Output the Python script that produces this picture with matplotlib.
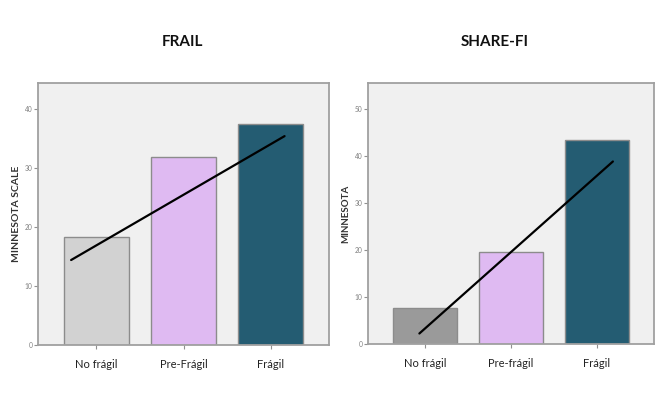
import matplotlib
matplotlib.use("Agg")
import matplotlib.pyplot as plt

categories_frail = ["No frágil", "Pre-Frágil", "Frágil"]
values_frail = [18.3, 31.9, 37.4]
fit_x_frail = [-0.29, 2.16]
fit_y_frail = [14.4, 35.4]

categories_share = ["No frágil", "Pre-frágil", "Frágil"]
values_share = [7.7, 19.6, 43.5]
fit_x_share = [-0.07, 2.19]
fit_y_share = [2.3, 38.9]

yticks_frail = [0, 10, 20, 30, 40]
yticks_share = [0, 10, 20, 30, 40, 50]

colors_frail = ["#d2d2d2", "#dfbaf2", "#245c72"]
colors_share = ["#9a9a9a", "#dfbaf2", "#245c72"]

plt.rcParams['font.family'] = ['Lato', 'DejaVu Sans']

fig = plt.figure(figsize=(6.68, 3.95), dpi=100)
ax1 = fig.add_axes([38/668, 50/395, 291/668, 262/395])
ax2 = fig.add_axes([368/668, 50.7/395, 286/668, 261.3/395])

def draw(ax, cats, vals, cols, fx, fy, yt, ymax, ylabel, ylsize, title, title_x):
    ax.set_facecolor("#f0f0f0")
    xs = list(range(len(cats)))
    ax.bar(xs, vals, width=0.75, color=cols, edgecolor="#8c8c8c", linewidth=1.0, zorder=2)
    ax.plot(fx, fy, color="black", linewidth=1.6, zorder=3, solid_capstyle="round")
    ax.set_xlim(-0.67, 2.67)
    ax.set_ylim(0, ymax)
    ax.set_yticks(yt)
    ax.set_yticklabels([str(v) for v in yt])
    ax.set_xticks(xs)
    ax.set_xticklabels(cats)
    for s in ax.spines.values():
        s.set_color("#a0a0a0")
        s.set_linewidth(1.3)
    ax.tick_params(axis="y", length=3, width=0.8, color="#909090", labelsize=4.8,
                   labelcolor="#808080", pad=1)
    ax.tick_params(axis="x", length=3, width=0.8, color="#909090", labelsize=8,
                   labelcolor="#222222", pad=7)
    ax.set_ylabel(ylabel, fontsize=ylsize, fontweight="bold", color="#333333", labelpad=3)
    fig.text(title_x, 1 - 42/395, title, ha="center", va="center",
             fontsize=11, fontweight="bold", color="#111111")

draw(ax1, categories_frail, values_frail, colors_frail, fit_x_frail, fit_y_frail,
     yticks_frail, 44.4, "MINNESOTA SCALE", 7.5, "FRAIL", 182/668)
draw(ax2, categories_share, values_share, colors_share, fit_x_share, fit_y_share,
     yticks_share, 55.6, "MINNESOTA", 7, "SHARE-FI", 495/668)

fig.savefig("out.png", dpi=100)
